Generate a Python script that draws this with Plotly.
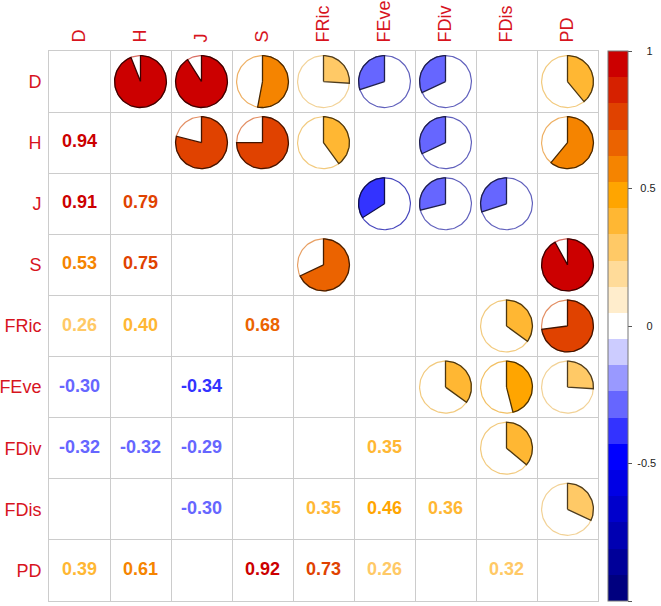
import numpy as np
import plotly.graph_objects as go

labels = ["D", "H", "J", "S", "FRic", "FEve", "FDiv", "FDis", "PD"]

# Correlation rows (None = not significant, shown blank); diagonal = 1
row_D    = [1.00, 0.94, 0.91, 0.53, 0.26, -0.30, -0.32, None, 0.39]
row_H    = [0.94, 1.00, 0.79, 0.75, 0.40, None, -0.32, None, 0.61]
row_J    = [0.91, 0.79, 1.00, None, None, -0.34, -0.29, -0.30, None]
row_S    = [0.53, 0.75, None, 1.00, 0.68, None, None, None, 0.92]
row_FRic = [0.26, 0.40, None, 0.68, 1.00, None, None, 0.35, 0.73]
row_FEve = [-0.30, None, -0.34, None, None, 1.00, 0.35, 0.46, 0.26]
row_FDiv = [-0.32, -0.32, -0.29, None, None, 0.35, 1.00, 0.36, None]
row_FDis = [None, None, -0.30, None, 0.35, 0.46, 0.36, 1.00, 0.32]
row_PD   = [0.39, 0.61, None, 0.92, 0.73, 0.26, None, 0.32, 1.00]

rows = [row_D, row_H, row_J, row_S, row_FRic, row_FEve, row_FDiv, row_FDis, row_PD]

cbar_ticks = [-1, -0.5, 0, 0.5, 1]
NB = "\u00a0"
cbar_ticktext = [NB * 3 + "-1", NB + "-0.5", NB * 4 + "0", NB * 2 + "0.5", NB * 4 + "1"]

# 21-colour palette: navy -> blue -> white -> orange -> red
anchors = [(0, (0, 0, 127)), (5, (0, 0, 255)), (10, (255, 255, 255)),
           (15, (255, 165, 0)), (20, (204, 0, 0))]
palette = []
for k in range(21):
    for (a, ca), (b, cb) in zip(anchors[:-1], anchors[1:]):
        if a <= k <= b:
            t = (k - a) / (b - a)
            palette.append(tuple(int(round(ca[i] + (cb[i] - ca[i]) * t)) for i in range(3)))
            break

def rgb(c):
    return "rgb(%d,%d,%d)" % c

def mix(c1, c2, t):
    return tuple(int(round(c1[i] * (1 - t) + c2[i] * t)) for i in range(3))

def col_of(v):
    k = int(np.floor((v + 1) / 2 * 21))
    return palette[min(max(k, 0), 20)]

colorscale = []
for k, c in enumerate(palette):
    colorscale.append([k / 21, rgb(c)])
    colorscale.append([(k + 1) / 21, rgb(c)])

FONT = "Liberation Sans, Arial, sans-serif"
LABEL_COL = "#D7141E"
R = 0.425

fig = go.Figure()

# Upper triangle: pies
for i in range(9):
    for j in range(i + 1, 9):
        v = rows[i][j]
        if v is None:
            continue
        cx, cy = j + 1, i + 1
        c = col_of(v)
        th = np.linspace(0, 2 * np.pi, 121)
        ring = mix(c, (230, 220, 200), 0.5) if v > 0 else mix(c, (90, 90, 120), 0.5)
        fig.add_trace(go.Scatter(
            x=cx + R * np.sin(th), y=cy - R * np.cos(th), mode="lines",
            line=dict(color=rgb(ring), width=1.2), hoverinfo="skip", showlegend=False))
        ang = np.linspace(0, v * 2 * np.pi, max(int(abs(v) * 120), 4))
        xs = np.concatenate([[cx], cx + R * np.sin(ang), [cx]])
        ys = np.concatenate([[cy], cy - R * np.cos(ang), [cy]])
        fig.add_trace(go.Scatter(
            x=xs, y=ys, mode="lines", fill="toself", fillcolor=rgb(c),
            line=dict(color=rgb(mix(c, (0, 0, 0), 0.7)), width=1.3),
            hoverinfo="skip", showlegend=False))

# Lower triangle: numbers
tx, ty, tt, tc = [], [], [], []
for i in range(9):
    for j in range(i):
        v = rows[i][j]
        if v is None:
            continue
        tx.append(j + 1)
        ty.append(i + 1)
        tt.append("%.2f" % v)
        tc.append(rgb(col_of(v)))
fig.add_trace(go.Scatter(
    x=tx, y=ty, text=tt, mode="text",
    textfont=dict(color=tc, size=18, family=FONT, weight="bold"),
    hoverinfo="skip", showlegend=False))

# Colour bar
fig.add_trace(go.Scatter(
    x=[None], y=[None], mode="markers", showlegend=False, hoverinfo="skip",
    marker=dict(color=[0], colorscale=colorscale, cmin=-1, cmax=1, showscale=True,
                colorbar=dict(thickness=20, thicknessmode="pixels", len=1, lenmode="fraction",
                              x=(608 - 49) / 550, xanchor="left", xpad=0,
                              y=0.5, yanchor="middle", ypad=0,
                              outlinecolor="#777777", outlinewidth=1,
                              tickvals=cbar_ticks, ticktext=cbar_ticktext,
                              ticks="outside", ticklen=4, tickcolor="#555555",
                              tickfont=dict(size=11, color="#222222", family=FONT)))))

axis_common = dict(
    tickmode="array", tickvals=list(range(1, 10)), ticktext=labels,
    tickfont=dict(color=LABEL_COL, size=18, family=FONT),
    showgrid=False, zeroline=False, ticks="",
    showline=True, mirror=True, linecolor="#CCCCCC", linewidth=1,
    minor=dict(tickmode="linear", tick0=0.5, dtick=1, showgrid=True,
               gridcolor="#CCCCCC", gridwidth=1),
    automargin=False, fixedrange=True)

fig.update_layout(
    width=661, height=606,
    margin=dict(l=49, r=62, t=51, b=5),
    paper_bgcolor="white", plot_bgcolor="white",
    xaxis=dict(range=[0.5, 9.5], side="top", tickangle=-90, ticklabelstandoff=4, **axis_common),
    yaxis=dict(range=[9.5, 0.5], ticklabelstandoff=3, **axis_common),
)

fig.write_html("out.html", config={"displayModeBar": False},
               post_script="document.body.style.margin='0';document.body.style.overflow='hidden';")
